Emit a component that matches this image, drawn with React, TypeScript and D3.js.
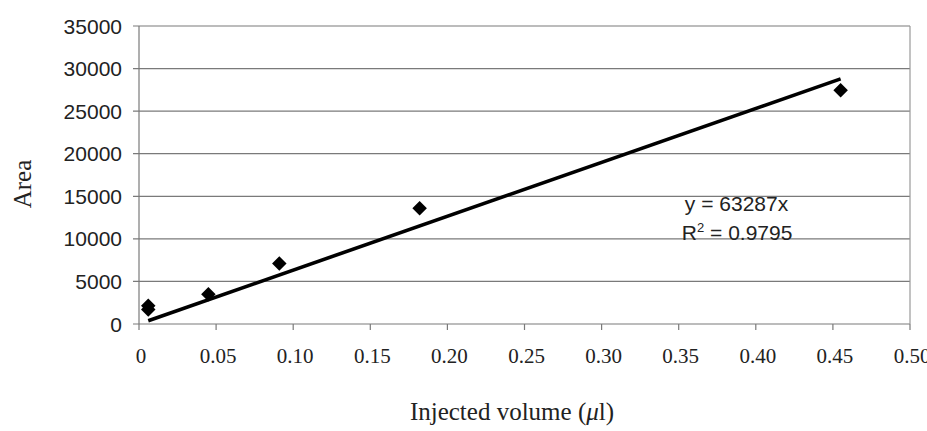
import React from 'react';
import * as d3 from 'd3';

// calibration data (injected volume in µl vs peak area)
const volumes = [0.006, 0.006, 0.045, 0.091, 0.182, 0.455];
const areas = [2150, 1700, 3500, 7100, 13600, 27450];
const xTicks = [0, 0.05, 0.1, 0.15, 0.2, 0.25, 0.3, 0.35, 0.4, 0.45, 0.5];
const yTicks = [0, 5000, 10000, 15000, 20000, 25000, 30000, 35000];
const slope = 63287;
const rSquared = '0.9795';

const W = 927;
const H = 431;
const margin = { top: 26, right: 17, bottom: 107, left: 139 };

const App = () => {
  const innerW = W - margin.left - margin.right;
  const innerH = H - margin.top - margin.bottom;

  const x = d3.scaleLinear().domain([0, 0.5]).range([0, innerW]);
  const y = d3.scaleLinear().domain([0, 35000]).range([innerH, 0]);

  const points = volumes.map((v, i) => ({ v, a: areas[i] }));
  const xMin = d3.min(volumes) as number;
  const xMax = d3.max(volumes) as number;
  const trend = d3.line<number>()
    .x(d => x(d))
    .y(d => y(slope * d));

  const diamond = d3.symbol().type(d3.symbolSquare).size(105)();

  const fmtX = (d: number) => (d === 0 ? '0' : d.toFixed(2));
  const sans = "'Liberation Sans', Arial, sans-serif";
  const serif = "'Liberation Serif', 'Times New Roman', serif";

  return (
    <svg
      width={W}
      height={H}
      style={{ position: 'absolute', left: 0, top: 0, background: '#fff' }}
    >
      <g transform={`translate(${margin.left},${margin.top})`}>
        {/* gridlines */}
        {yTicks.map(t => (
          <line key={t} x1={-6} x2={innerW} y1={y(t)} y2={y(t)} stroke="#7a7a7a" strokeWidth={1.2} />
        ))}
        {/* axes */}
        <line x1={0} x2={0} y1={0} y2={innerH} stroke="#7a7a7a" strokeWidth={1.2} />
        <line x1={innerW} x2={innerW} y1={0} y2={innerH} stroke="#999" strokeWidth={1.2} />
        {xTicks.map(t => (
          <line key={t} x1={x(t)} x2={x(t)} y1={innerH} y2={innerH + 6} stroke="#7a7a7a" strokeWidth={1.2} />
        ))}

        {/* y tick labels */}
        {yTicks.map(t => (
          <text
            key={t}
            x={-17}
            y={y(t)}
            dy="0.36em"
            textAnchor="end"
            fontFamily={sans}
            fontSize={21}
            fill="#222"
          >
            {t}
          </text>
        ))}

        {/* x tick labels */}
        {xTicks.map(t => (
          <text
            key={t}
            x={x(t) + 2}
            y={innerH + 39}
            textAnchor="middle"
            fontFamily={serif}
            fontSize={21}
            fill="#222"
          >
            {fmtX(t)}
          </text>
        ))}

        {/* trendline */}
        <path d={trend([xMin, xMax]) || ''} fill="none" stroke="#000" strokeWidth={3.6} />

        {/* data points */}
        {points.map((p, i) => (
          <path
            key={i}
            d={diamond || ''}
            transform={`translate(${x(p.v)},${y(p.a)}) rotate(45)`}
            fill="#000"
          />
        ))}

        {/* equation */}
        <g fontFamily={sans} fontSize={21} fill="#222">
          <text x={x(0.354)} y={y(13270)}>y = {slope}x</text>
          <text x={x(0.352)} y={y(9870)}>
            R<tspan fontSize={13} dy="-8">2</tspan>
            <tspan dy="8"> = {rSquared}</tspan>
          </text>
        </g>
      </g>

      {/* axis titles */}
      <text
        x={512}
        y={420}
        textAnchor="middle"
        fontFamily={serif}
        fontSize={25}
        fill="#222"
      >
        Injected volume (<tspan fontStyle="italic">μ</tspan>l)
      </text>
      <text
        transform="translate(31,184) rotate(-90)"
        textAnchor="middle"
        fontFamily={serif}
        fontSize={25}
        fill="#222"
      >
        Area
      </text>
    </svg>
  );
};

export default App;
